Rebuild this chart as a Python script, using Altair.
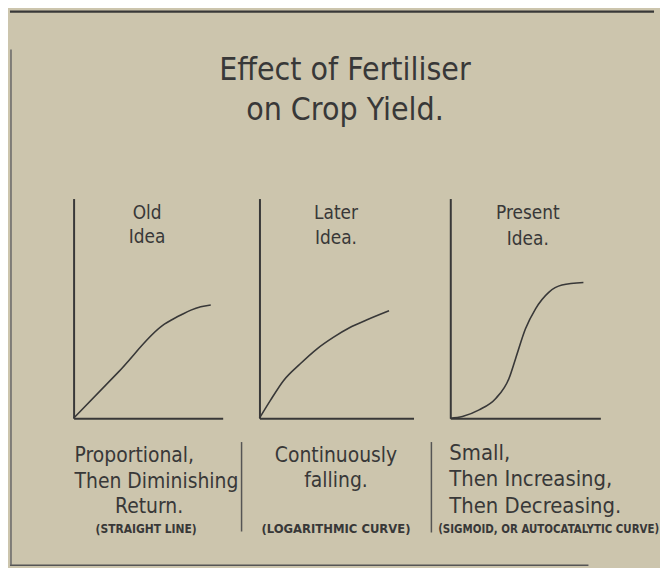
import altair as alt
import pandas as pd

# ---------------- data ----------------
title_lines = ["Effect of Fertiliser", "on Crop Yield."]

old_label = ["Old", "Idea"]
later_label = ["Later", "Idea."]
present_label = ["Present", "Idea."]

old_desc = ["Proportional,", "Then Diminishing"]
old_desc_last = "Return."
old_caption = "(STRAIGHT LINE)"
later_desc = ["Continuously", "falling."]
later_caption = "(LOGARITHMIC  CURVE)"
present_desc = ["Small,", "Then Increasing,", "Then Decreasing."]
present_caption = "(SIGMOID, OR AUTOCATALYTIC CURVE)"

# fertiliser applied (x) vs crop yield (y) (0-10 units)
old_x = [0, 3.0, 6.09, 6.53, 7.2, 7.87, 8.53, 9.2]
old_y = [0, 2.1, 4.28, 4.46, 4.7, 4.92, 5.07, 5.15]
later_x = [0, 0.71, 1.57, 2.65, 3.72, 4.79, 5.87, 6.95, 8.41]
later_y = [0, 0.81, 1.72, 2.48, 3.15, 3.68, 4.13, 4.47, 4.89]
present_x = [0, 0.81, 1.92, 3.03, 3.91, 4.35, 5.01, 5.68, 6.56, 7.44, 8.87]
present_y = [0, 0.08, 0.38, 0.9, 1.81, 2.71, 4.07, 4.98, 5.73, 6.06, 6.18]

# ---------------- style ----------------
FONT = "Liberation Sans Narrow, DejaVu Sans Condensed, sans-serif"
INK = "#383838"
BG = "#ccc5ad"
H = 221
one = alt.Data(values=[{}])


def txt(lines, x, y, size, align="center", lh=None, bold=False):
    return alt.Chart(one).mark_text(
        text=lines, align=align, baseline="alphabetic", fontSize=size,
        font=FONT, color=INK, lineHeight=lh if lh else size * 1.2,
        fontWeight="bold" if bold else "normal",
    ).encode(x=alt.value(x), y=alt.value(y))


def hrule(x, x2, y, w=2, color=INK):
    return alt.Chart(one).mark_rule(color=color, strokeWidth=w).encode(
        x=alt.value(x), x2=alt.value(x2), y=alt.value(y))


def vrule(x, y, y2, w=1.5, color=INK):
    return alt.Chart(one).mark_rule(color=color, strokeWidth=w).encode(
        x=alt.value(x), y=alt.value(y), y2=alt.value(y2))


def curve(xs, ys, width):
    df = pd.DataFrame({"fertiliser": xs, "yield": ys})
    ax = dict(title=None, labels=False, ticks=False, grid=False,
              domainColor=INK, domainWidth=2)
    return alt.Chart(df).mark_line(
        color=INK, strokeWidth=1.6, interpolate="monotone"
    ).encode(
        x=alt.X("fertiliser:Q", scale=alt.Scale(domain=[0, 10], nice=False),
                axis=alt.Axis(**ax)),
        y=alt.Y("yield:Q", scale=alt.Scale(domain=[0, 10], nice=False),
                axis=alt.Axis(**ax)),
    ).properties(width=width, height=H)


p1 = alt.layer(
    curve(old_x, old_y, 150),
    hrule(-64, 584, -188, 2.2),                 # frame top
    hrule(-64, 518, 369, 1.5, "#555555"),       # frame bottom
    vrule(-63, -150, 369, 1.5, "#666666"),      # frame left
    txt(title_lines, 273, -119, 32, lh=40),
    txt(old_label, 74, 21, 19, lh=24),
    txt(old_desc, 1, 265, 21, align="left", lh=26),
    txt(old_desc_last, 76, 316, 21),
    txt(old_caption, 73, 336, 12, bold=True),
    vrule(169, 245, 335, 1.5, "#555555"),
)

p2 = alt.layer(
    curve(later_x, later_y, 155),
    txt(later_label, 77, 21, 19, lh=25),
    txt(later_desc, 77, 265, 21, lh=25),
    txt(later_caption, 77, 336, 13, bold=True),
    vrule(173, 245, 336, 1.5, "#555555"),
)

p3 = alt.layer(
    curve(present_x, present_y, 151),
    txt(present_label, 78, 21, 19, lh=26),
    txt(present_desc, -1, 263, 22, align="left", lh=26.5),
    txt(present_caption, 99, 336, 11.5, bold=True),
)

chart = alt.hconcat(p1, p2, p3, spacing=37, bounds="flush").properties(
    background=BG, padding=0
).configure_view(stroke=None)

chart.save("out.html", embed_options={"renderer": "svg", "actions": False})
